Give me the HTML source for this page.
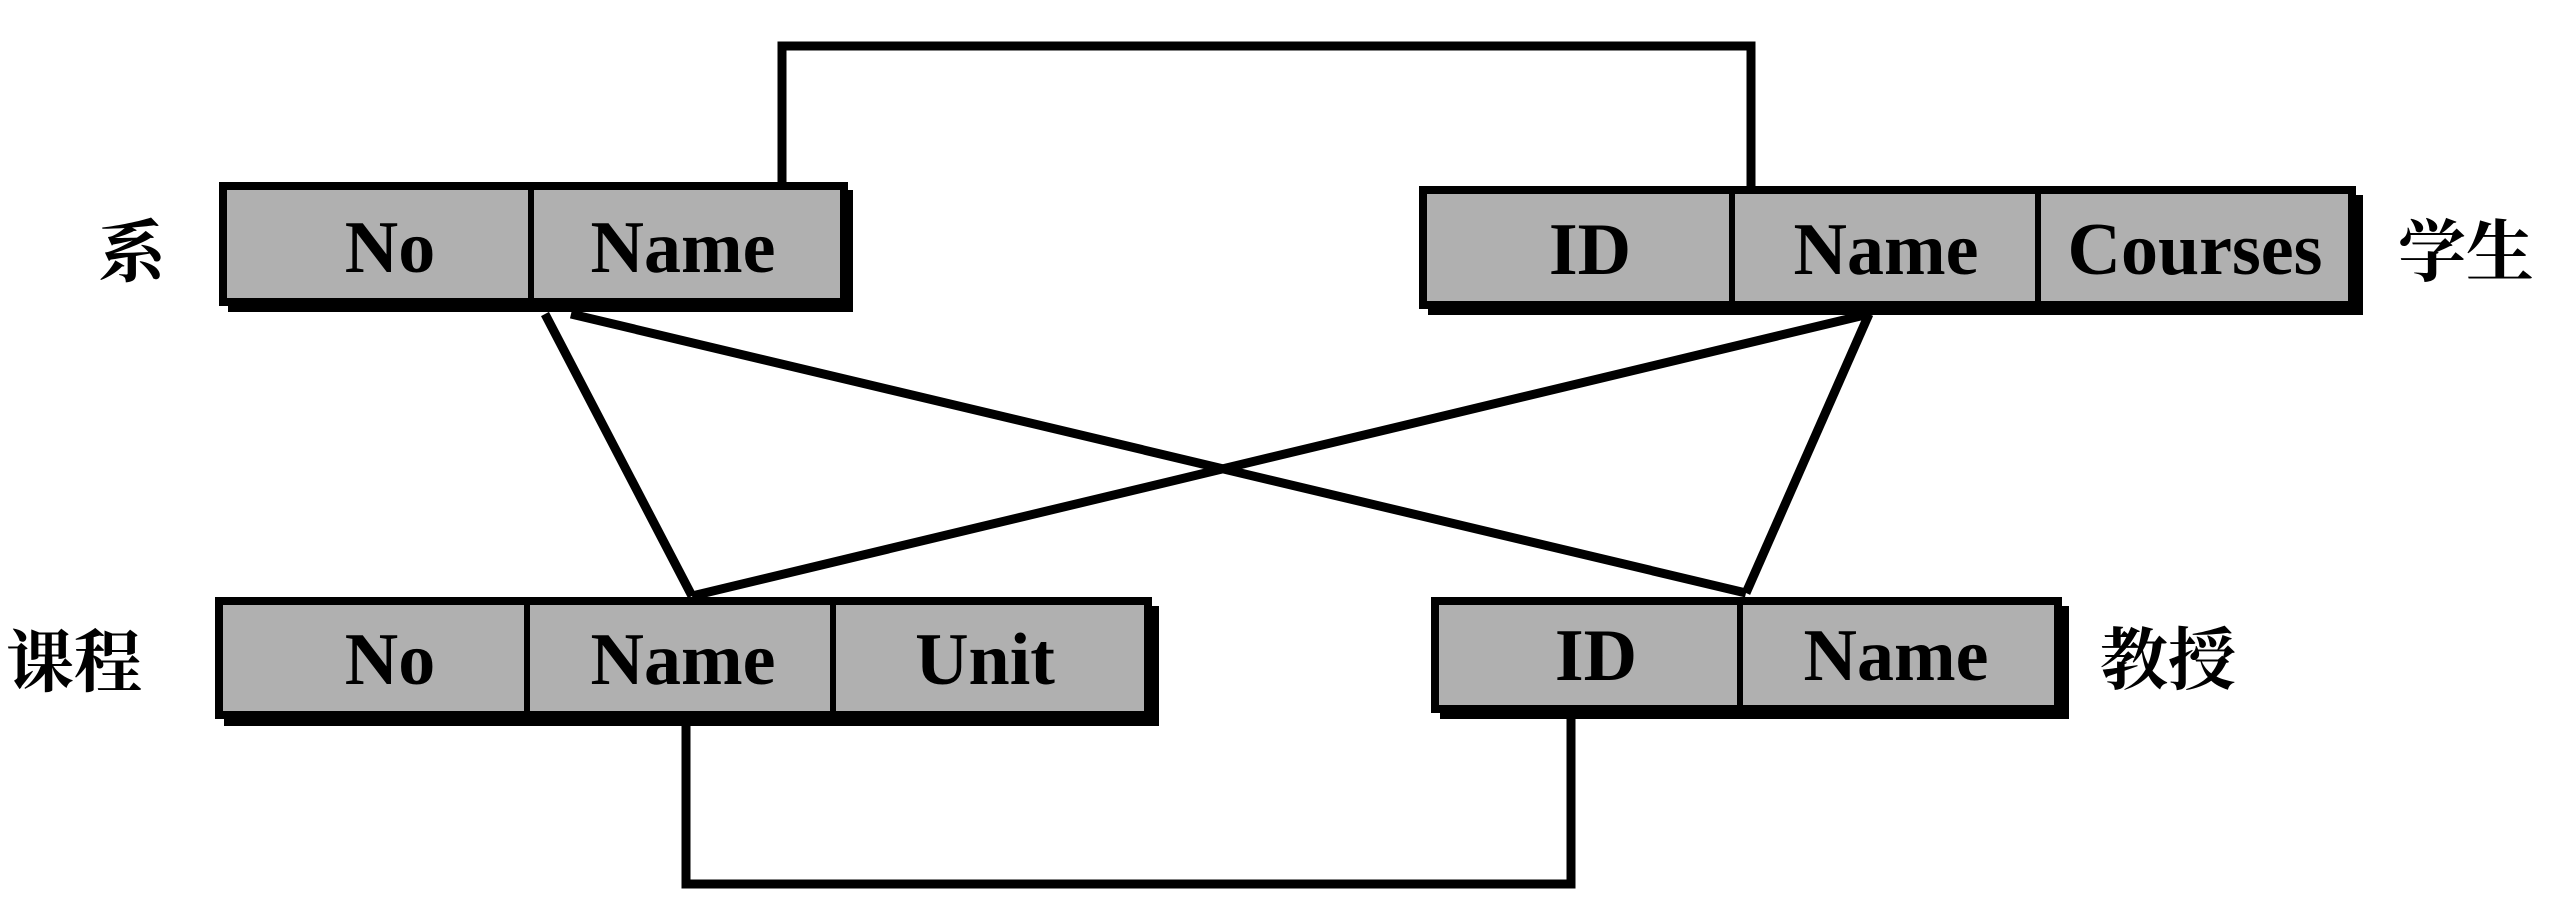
<!DOCTYPE html>
<html><head><meta charset="utf-8"><style>
html,body{margin:0;padding:0;background:#fff;}
svg{display:block;}
.t{font-family:"Liberation Serif",serif;font-weight:bold;font-size:74px;text-anchor:middle;}
.c{font-family:"Liberation Serif","Noto Serif CJK SC","Noto Sans CJK SC",serif;font-weight:bold;font-size:68px;}
</style></head><body>
<svg width="2553" height="912" viewBox="0 0 2553 912" xmlns="http://www.w3.org/2000/svg">
<g fill="none" stroke="#000" stroke-width="9">
<polyline points="782,185 782,46 1751,46 1751,187"/>
<polyline points="686,717 686,884 1571,884 1571,711"/>
<line x1="545" y1="314" x2="692" y2="596"/>
<line x1="571" y1="314" x2="1746" y2="593"/>
<line x1="692" y1="596" x2="1869" y2="314"/>
<line x1="1869" y1="314" x2="1746" y2="593"/>
</g>
<g fill="#000">
<rect x="228" y="190" width="625" height="122"/>
<rect x="224" y="606" width="935" height="120"/>
<rect x="1428" y="195" width="935" height="120"/>
<rect x="1440" y="606" width="629" height="113"/>
</g>
<g fill="#b0b0b0" stroke="#000" stroke-width="8">
<rect x="223" y="186" width="621" height="116"/>
<rect x="219" y="601" width="929" height="114"/>
<rect x="1423" y="190" width="929" height="115"/>
<rect x="1435" y="601" width="623" height="108"/>
</g>
<g stroke="#000" stroke-width="6">
<line x1="531" y1="186" x2="531" y2="302"/>
<line x1="527" y1="601" x2="527" y2="715"/>
<line x1="833" y1="601" x2="833" y2="715"/>
<line x1="1732" y1="190" x2="1732" y2="305"/>
<line x1="2038" y1="190" x2="2038" y2="305"/>
<line x1="1740" y1="601" x2="1740" y2="709"/>
</g>
<g class="t" fill="#000">
<text x="390" y="272">No</text>
<text x="683" y="272">Name</text>
<text x="390" y="684">No</text>
<text x="683" y="684">Name</text>
<text x="985" y="684">Unit</text>
<text x="1590" y="274">ID</text>
<text x="1886" y="274">Name</text>
<text x="2195" y="274">Courses</text>
<text x="1596" y="680">ID</text>
<text x="1896" y="680">Name</text>
</g>
<g class="c" fill="#000">
<text x="98" y="276">系</text>
<text x="6" y="686">课程</text>
<text x="2398" y="276">学生</text>
<text x="2100" y="684">教授</text>
</g>
</svg>
</body></html>
